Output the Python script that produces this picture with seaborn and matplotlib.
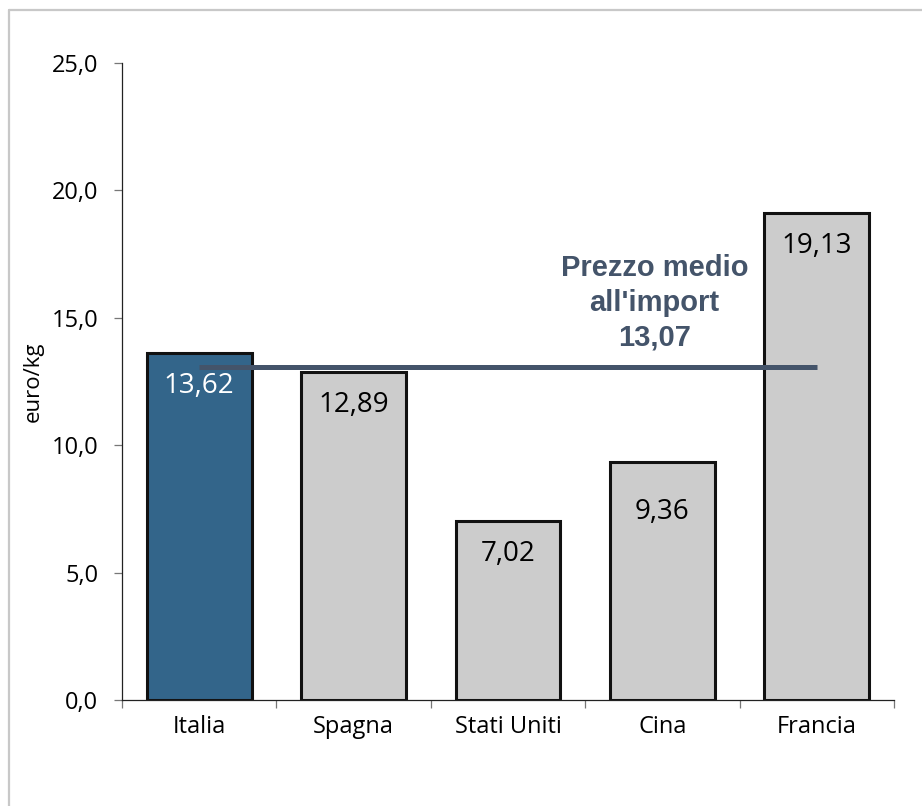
import numpy as np
import pandas as pd
import seaborn as sns
import matplotlib
matplotlib.use('Agg')
import matplotlib.pyplot as plt
from matplotlib.lines import Line2D
from matplotlib.ticker import FuncFormatter, FixedLocator

# Data
paesi = ["Italia", "Spagna", "Stati Uniti", "Cina", "Francia"]
prezzi = [13.62, 12.89, 7.02, 9.36, 19.13]
prezzo_medio = 13.07
colori = ["#33658A", "#CCCCCC", "#CCCCCC", "#CCCCCC", "#CCCCCC"]

sns.set_style("white")
plt.rcParams['font.family'] = ['Open Sans', 'DejaVu Sans']
plt.rcParams['text.color'] = 'black'
plt.rcParams['axes.labelcolor'] = 'black'
plt.rcParams['xtick.labelcolor'] = 'black'
plt.rcParams['ytick.labelcolor'] = 'black'

df = pd.DataFrame({"paese": paesi, "prezzo": prezzi})

fig = plt.figure(figsize=(9.22, 8.06), dpi=100)
ax = fig.add_axes([122 / 922, 1 - 700 / 806, (894 - 122) / 922, (700 - 63) / 806])

sns.barplot(data=df, x="paese", y="prezzo", hue="paese", palette=colori,
            order=paesi, hue_order=paesi, legend=False, width=0.68,
            edgecolor="#111111", linewidth=2.2, saturation=1, ax=ax)

ax.set_ylim(0, 25)
ax.set_xlim(-0.5, len(paesi) - 0.5)

# Average import price line
ax.hlines(prezzo_medio, 0, len(paesi) - 1, color="#44546A", linewidth=3.6, zorder=5)
ax.annotate(f"Prezzo medio\nall'import\n{prezzo_medio:.2f}".replace(".", ","),
            xy=(2.95, prezzo_medio), xytext=(0, 11), textcoords="offset points",
            ha="center", va="bottom", fontsize=21, fontweight="bold",
            color="#44546A", family=["Liberation Sans", "DejaVu Sans"],
            linespacing=1.3)

# Value labels inside bars
offsets = [-24, -24, -24, -36, -24]
for i, (v, off) in enumerate(zip(prezzi, offsets)):
    ax.annotate(f"{v:.2f}".replace(".", ","), xy=(i, v), xytext=(0, off),
                textcoords="offset points", ha="center", va="center",
                fontsize=20, color="white" if i == 0 else "black")

# Axes styling
for s in ["top", "right"]:
    ax.spines[s].set_visible(False)
ax.spines["left"].set_color("#222222")
ax.spines["bottom"].set_color("#222222")
ax.spines["left"].set_linewidth(0.9)
ax.spines["bottom"].set_linewidth(0.9)

ax.set_yticks(np.arange(0, 26, 5))
ax.yaxis.set_major_formatter(FuncFormatter(lambda y, p: f"{y:.1f}".replace(".", ",")))
ax.tick_params(axis="y", direction="out", length=6, width=0.9, color="#777777",
               pad=11, labelsize=17, left=True)
ax.xaxis.set_minor_locator(FixedLocator(np.arange(-0.5, len(paesi), 1.0)))
ax.tick_params(axis="x", which="major", length=0, pad=11, labelsize=17)
ax.tick_params(axis="x", which="minor", direction="out", length=6, width=0.9,
               color="#777777", bottom=True)

ax.set_xlabel("")
ax.set_ylabel("euro/kg", fontsize=16)
ax.yaxis.label.set_va("center")
ax.yaxis.set_label_coords(-0.115, 0.5)

# Chart area border (partly cropped)
fig.add_artist(Line2D([9 / 922, 1], [1 - 10 / 806] * 2, color="#C8C8C8", linewidth=1.6))
fig.add_artist(Line2D([9 / 922] * 2, [0, 1 - 10 / 806], color="#C8C8C8", linewidth=1.6))

plt.savefig("out.png", dpi=100)
plt.close()
